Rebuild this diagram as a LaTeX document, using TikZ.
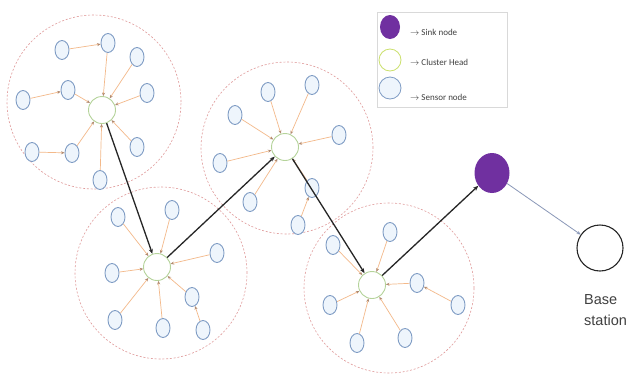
\documentclass[tikz,border=0pt]{standalone}
\usepackage{fontspec}
\setmainfont{Liberation Sans}
\newfontfamily\legfont{Carlito}
\usetikzlibrary{arrows.meta,shapes.geometric}
\definecolor{sensorfill}{HTML}{EEF5FC}
\definecolor{sensordraw}{HTML}{7F9CC4}
\definecolor{chdraw}{HTML}{B5D39A}
\definecolor{feed}{HTML}{F3B98A}
\definecolor{feedtip}{HTML}{B08A70}
\definecolor{clus}{HTML}{E09A9A}
\definecolor{sinkc}{HTML}{7030A0}
\definecolor{bsline}{HTML}{8A98B8}
\begin{document}
\begin{tikzpicture}[x=1pt,y=-1pt,
  sensor/.style={ellipse, draw=sensordraw, fill=sensorfill, line width=0.9pt, minimum width=14pt, minimum height=19pt, inner sep=0pt},
  chead/.style={circle, draw=chdraw, fill=white, line width=0.9pt, minimum size=27pt, inner sep=0pt},
  feedarrow/.style={draw=feed, line width=0.7pt, -{Stealth[length=3.5pt,width=3pt,color=feedtip]}},
  hop/.style={draw=black!85, line width=1.3pt, -{Stealth[length=5pt,width=4pt]}},
  cluster/.style={circle, draw=clus, dash pattern=on 2pt off 1.8pt, line width=0.6pt, inner sep=0pt},
  legtext/.style={anchor=west, font=\legfont\fontsize{9}{10}\selectfont, text=black!75, inner sep=0pt},
  bstext/.style={anchor=west, font=\fontsize{14.5}{17}\selectfont, text=black!75, inner sep=0pt}
]
\useasboundingbox (0,0) rectangle (628,381);
\fill[white] (0,0) rectangle (628,381);

% cluster regions
\node[cluster, minimum size=174pt] (cl1) at (94,102) {};
\node[cluster, minimum size=172pt] (cl2) at (161,273) {};
\node[cluster, minimum size=172pt] (cl3) at (287,148) {};
\node[cluster, minimum size=170pt] (cl4) at (389,288) {};

% cluster 1
\node[chead] (h1) at (102,110) {};
\node[sensor] (a1) at (62,50) {};
\node[sensor] (a2) at (108,43) {};
\node[sensor] (a3) at (137,57) {};
\node[sensor] (a4) at (68,90) {};
\node[sensor] (a5) at (147,93) {};
\node[sensor] (a6) at (23,100) {};
\node[sensor] (a7) at (137,147) {};
\node[sensor] (a8) at (32,152) {};
\node[sensor] (a9) at (72,153) {};
\node[sensor] (a10) at (100,180) {};

% cluster 2
\node[chead] (h2) at (157,267) {};
\node[sensor] (b1) at (118,217) {};
\node[sensor] (b2) at (172,210) {};
\node[sensor] (b3) at (217,253) {};
\node[sensor] (b4) at (112,273) {};
\node[sensor] (b5) at (192,297) {};
\node[sensor] (b6) at (115,320) {};
\node[sensor] (b7) at (163,328) {};
\node[sensor] (b8) at (203,330) {};

% cluster 3
\node[chead] (h3) at (285,147) {};
\node[sensor] (c1) at (268,92) {};
\node[sensor] (c2) at (312,85) {};
\node[sensor] (c3) at (235,115) {};
\node[sensor] (c4) at (339,135) {};
\node[sensor] (c5) at (220,163) {};
\node[sensor] (c6) at (312,188) {};
\node[sensor] (c7) at (250,202) {};
\node[sensor] (c8) at (298,225) {};

% cluster 4
\node[chead] (h4) at (372,285) {};
\node[sensor] (d1) at (390,232) {};
\node[sensor] (d2) at (333,245) {};
\node[sensor] (d3) at (417,283) {};
\node[sensor] (d4) at (458,305) {};
\node[sensor] (d5) at (330,305) {};
\node[sensor] (d6) at (357,343) {};
\node[sensor] (d7) at (405,338) {};

% sink and base station
\node[ellipse, fill=sinkc, minimum width=35pt, minimum height=40pt, inner sep=0pt] (sink) at (492,173) {};
\node[circle, draw=black!85, line width=1.1pt, minimum size=46pt, inner sep=0pt] (bs) at (600,248) {};
\node[bstext] (bst1) at (584,300) {Base};
\node[bstext] (bst2) at (584,320) {station};

% feed arrows
\foreach \s/\t in {a1/a2,a2/h1,a3/h1,a4/h1,a6/a4,a5/h1,a7/h1,a8/a9,a9/h1,a10/h1,
                   b1/h2,b2/h2,b3/h2,b4/h2,b5/h2,b6/h2,b7/h2,b8/b5,
                   c1/h3,c2/h3,c3/h3,c4/h3,c5/h3,c6/h3,c7/h3,c8/c6,
                   d1/h4,d2/h4,d3/h4,d5/h4,d6/h4,d7/h4,d4/d3}
  \draw[feedarrow] (\s) -- (\t);

% hops between cluster heads
\draw[hop] (h1) -- (h2);
\draw[hop] (h2) -- (h3);
\draw[hop] (h3) -- (h4);
\draw[hop] (h4) -- (sink);
\draw[draw=bsline, line width=0.8pt, -{Stealth[length=4pt,width=3.5pt]}] (sink) -- (bs);

% legend
\node[draw=black!15, line width=0.6pt, minimum width=130pt, minimum height=95pt, inner sep=0pt] (legbox) at (442,59.5) {};
\node[ellipse, fill=sinkc, minimum width=20pt, minimum height=24pt, inner sep=0pt] (lsink) at (390,27) {};
\node[circle, draw=chdraw!70!yellow, line width=0.8pt, minimum size=22pt, inner sep=0pt] (lch) at (390,60) {};
\node[circle, draw=sensordraw, fill=sensorfill, line width=0.8pt, minimum size=22pt, inner sep=0pt] (lsen) at (390,88) {};
\node[legtext] (t1) at (410,32) {$\rightarrow$ Sink node};
\node[legtext] (t2) at (410,62) {$\rightarrow$ Cluster Head};
\node[legtext] (t3) at (410,97) {$\rightarrow$ Sensor node};
\end{tikzpicture}
\end{document}
